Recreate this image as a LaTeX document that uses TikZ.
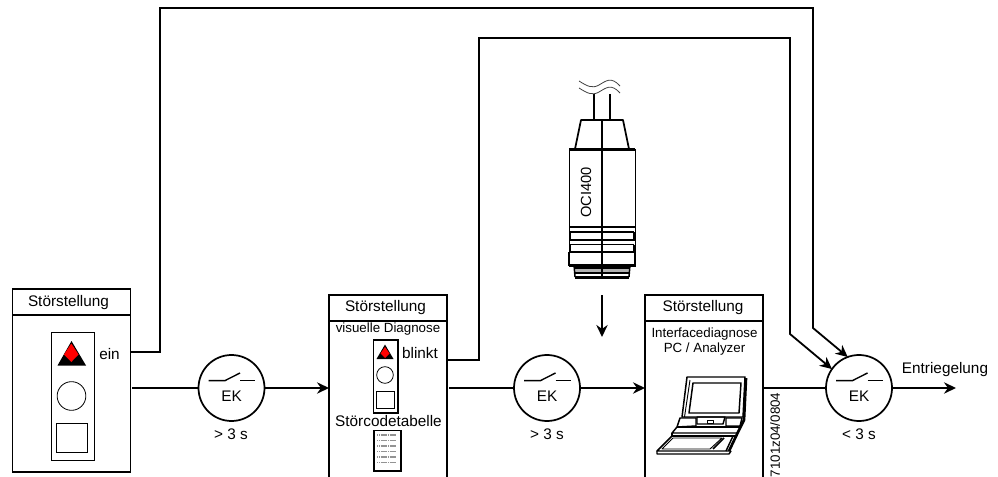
\documentclass[tikz,border=0pt]{standalone}
\usepackage{fontspec}
\setmainfont{Liberation Sans}
\usetikzlibrary{arrows.meta,calc}
\tikzset{
  x=0.75pt,y=-0.75pt,
  line/.style={line width=1.35pt,black},
  flow/.style={line,-{Stealth[length=9pt,width=8.5pt]}},
  panel/.style={draw,line width=1.25pt},
  thick box/.style={draw,line width=1.4pt},
  thin box/.style={draw,line width=0.6pt},
  ek/.style={circle,draw,line width=1.3pt,minimum size=49.5pt,inner sep=0pt,outer sep=0pt},
  lbl/.style={font=\fontsize{11.5pt}{12pt}\selectfont,inner sep=0pt},
  small/.style={font=\fontsize{10pt}{11pt}\selectfont,inner sep=0pt},
  dev/.style={line width=1.1pt,line join=round},
  devthin/.style={line width=0.7pt,line join=round},
}
\newcommand{\switchsym}[1]{%
  \draw[line width=1.05pt] ($(#1)+(-23,-7.4)$) -- ($(#1)+(-6.5,-7.4)$) -- ($(#1)+(8.5,-15)$);
  \draw[line width=1.05pt] ($(#1)+(8.5,-7.4)$) -- ($(#1)+(23.5,-7.4)$);
  \node[lbl] at ($(#1)+(0,8.5)$) {EK};
}
\begin{document}
\begin{tikzpicture}
\useasboundingbox (0,0) rectangle (998,477);
\clip (0,0) rectangle (998,477);
% panel 1
\node[panel,minimum width=88.5pt,minimum height=137.3pt,inner sep=0,outer sep=0,anchor=north west] (p1) at (12.5,289) {};
\coordinate (p1a) at (130.5,352);
\coordinate (p1b) at (132,388);
\draw[line width=1.25pt] (12.5,315) -- (130.5,315);
\node[lbl] at (68.5,302.5) {Störstellung};
\node[thick box,minimum width=32.3pt,minimum height=96pt,inner sep=0,anchor=north west] (l1) at (50.5,331.5) {};
\fill (71.5,341) -- (86,365.5) -- (57.5,365.5) -- cycle;
\fill[red] (71.3,343.5) -- (78.5,354.5) -- (71.3,362) -- (64,354.5) -- cycle;
\node[circle,thin box,minimum size=21.5pt,inner sep=0] (c1) at (71.5,396) {};
\node[thin box,minimum width=23pt,minimum height=22pt,inner sep=0,anchor=north west] (s1) at (56,423) {};
\node[lbl] (ein) at (109.5,354) {ein};
% panel 2
\node[panel,minimum width=88.5pt,minimum height=150pt,inner sep=0,outer sep=0,anchor=north west] (p2) at (329,295) {};
\draw[line width=1.25pt] (329,321) -- (447,321);
\node[lbl] at (385.5,307.5) {Störstellung};
\node[small] at (388,329.5) {visuelle Diagnose};
\node[thick box,minimum width=18.5pt,minimum height=54.5pt,inner sep=0,anchor=north west] (l2) at (372.5,339) {};
\fill (385,344.5) -- (393.5,359) -- (376.5,359) -- cycle;
\fill[red] (385,347) -- (389.5,353.5) -- (385,358) -- (380.5,353.5) -- cycle;
\node[circle,thin box,minimum size=12.5pt,inner sep=0] (c2) at (385,375) {};
\node[thin box,minimum width=13.5pt,minimum height=13pt,inner sep=0,anchor=north west] (s2) at (376,391) {};
\node[lbl] at (420,353.5) {blinkt};
\node[lbl] at (388.5,421) {Störcodetabelle};
\node[thick box,minimum width=20.5pt,minimum height=30.5pt,inner sep=0,anchor=north west] (t2) at (373,429.5) {};
\foreach \yy in {435,440.5,446,451.5,457,462.5}
  \draw[gray!85,line width=1.3pt,dash pattern=on 1pt off 0.35pt] (377,\yy) -- (396,\yy);
\coordinate (p2a) at (448,360);
\coordinate (p2b) at (449,388);
% panel 3
\node[panel,minimum width=88.5pt,minimum height=150pt,inner sep=0,outer sep=0,anchor=north west] (p3) at (645,295) {};
\draw[line width=1.25pt] (645,321) -- (763,321);
\node[lbl] at (703,307.5) {Störstellung};
\node[small] at (704.5,334) {Interfacediagnose};
\node[small] at (704.5,349.5) {PC / Analyzer};
\coordinate (p3b) at (764,388);
% laptop
\draw[dev] (687,377) -- (745,377) -- (743,417) -- (682,417) -- cycle;
\draw[devthin] (690,380) -- (684.5,417);
\draw[dev] (693,383) -- (741,383) -- (739,413) -- (689,413) -- cycle;
\draw[line width=2pt,line join=round] (746,378) -- (744,420) -- (739,430) -- (729,451);
\draw[dev] (696,418) -- (680,418) -- (677,427) -- (696,426) -- cycle;
\draw[dev] (697,417) -- (725,417) -- (723,424) -- (697,424) -- cycle;
\draw[devthin] (707,423) -- (707,420) -- (713,420) -- (713,423) -- cycle;
\draw[dev] (726,418) -- (742,418) -- (740,426) -- (726,426) -- cycle;
\draw[dev] (677,427) -- (672,433) -- (738,433);
\draw[dev] (677,427) -- (740,427);
\draw[dev] (672,433) -- (672,436) -- (735,436);
\draw[dev] (672,436) -- (657,451) -- (731,451);
\draw[dev] (733,436) -- (726,451);
\draw[dev] (657,451) -- (657,454) -- (729,454) -- (731,451);
\draw[devthin] (662,449) -- (673,438) -- (722,438) -- (710,449) -- cycle;
\draw[dev] (713,449) -- (724,438);
% rotated code
\node[font=\fontsize{10pt}{11pt}\selectfont,inner sep=0,rotate=90,anchor=west] at (775,477.5) {7101z04/0804};
% EK switches
\node[ek] (e1) at (231.5,388) {};
\node[ek] (e2) at (547,388) {};
\node[ek] (e3) at (859,388) {};
\switchsym{e1}
\switchsym{e2}
\switchsym{e3}
\node[lbl] at (231,434) {> 3 s};
\node[lbl] at (547,434) {> 3 s};
\node[lbl] at (859,434) {< 3 s};
\coordinate (end) at (956,388);
\node[lbl] at (945,369.5) {Entriegelung};
% connectors
\draw[line] (p1b) -- (e1);
\draw[flow] (e1) -- (p2.west|-e1);
\draw[line] (p2b) -- (e2);
\draw[flow] (e2) -- (p3.west|-e2);
\draw[line] (p3b) -- (e3);
\draw[flow] (e3) -- (end);
\coordinate (t1) at (160,8);
\coordinate (t2c) at (813,8);
\coordinate (t3) at (813,328);
\coordinate (u1) at (479,38);
\coordinate (u2) at (790,38);
\coordinate (u3) at (790,334);
\draw[flow] (p1a) -| (t1) -- (t2c) -- (t3) -- (e3.110);
\draw[flow] (p2a) -| (u1) -- (u2) -- (u3) -- (e3.145);
% OCI400
\coordinate (cabA) at (594,94);
\coordinate (cabB) at (610,94);
\draw[line width=1.2pt] (cabA) -- (594,120);
\draw[line width=1.2pt] (cabB) -- (610,120);
\foreach \dy in {0,7}
  \draw[line width=0.6pt,black!75] (579,81+\dy) .. controls (587,86+\dy) and (592,89+\dy) .. (599,85+\dy) .. controls (606,81+\dy) and (611,76+\dy) .. (620,86+\dy);
\draw[dev,line width=1.3pt] (575,149) -- (581,120) -- (623,120) -- (629,149);
\node[draw,line width=1.1pt,minimum width=49.5pt,minimum height=87pt,inner sep=0,anchor=north west] (plug) at (569,149.5) {};
\draw[line width=1.8pt] (569,149.5) -- (635,149.5);
\foreach \yy in {227,240,252} \draw[line width=1.4pt] (569,\yy) -- (635,\yy);
\foreach \yy in {232,244.5} \draw[line width=1.4pt] (570,\yy) -- (634,\yy);
\draw[line width=1.1pt] (570,232) -- (570,240) (634,232) -- (634,240);
\draw[line width=1.1pt] (570,244.5) -- (570,252) (634,244.5) -- (634,252);
\draw[line width=1.1pt] (569,252) -- (569,265) -- (635,265) -- (635,252);
\fill[gray!60] (575,268) rectangle (630,273);
\draw[dev] (574,265) -- (575,277) (630,265) -- (629,277);
\draw[line width=0.8pt] (575,268) -- (630,268) (575,273) -- (630,273);
\draw[line width=1.8pt] (575,277.5) -- (629,277.5);
\draw[line width=1.3pt] (602,120) -- (602,278);
\node[font=\fontsize{11pt}{12pt}\selectfont,inner sep=0,rotate=90] (oci) at (586,192.5) {OCI400};
\coordinate (plugarrow) at (602,295);
\coordinate (plugtip) at (602,337);
\draw[flow] (plugarrow) -- (plugtip);
\end{tikzpicture}
\end{document}
